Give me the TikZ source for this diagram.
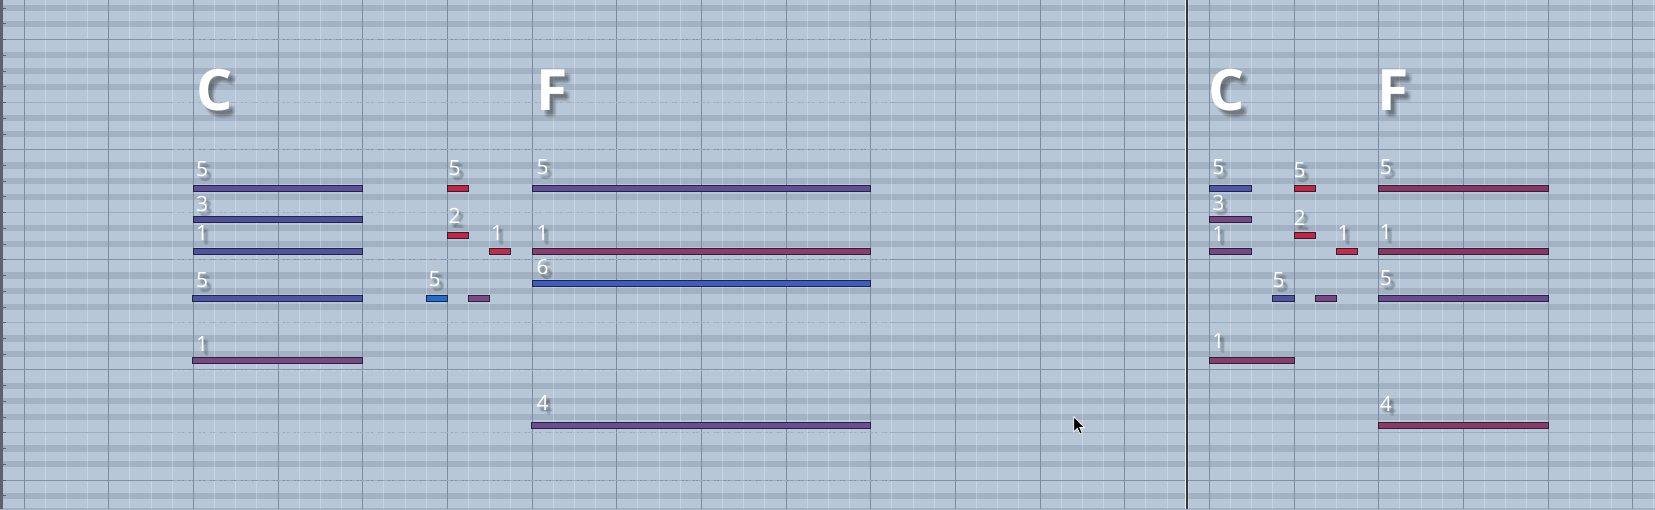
\documentclass[tikz,border=0pt]{standalone}
\usepackage{fontspec}
\setmainfont{Open Sans}
\definecolor{bgc}{HTML}{B8C7D7}
\definecolor{bandc}{HTML}{A2B2C3}
\definecolor{beatc}{HTML}{7A8CA2}
\definecolor{octc}{HTML}{8292A6}
\definecolor{efc}{HTML}{9DADBF}
\definecolor{edgec}{HTML}{5D636E}
\definecolor{nborder}{HTML}{26233C}
\definecolor{cA}{HTML}{5F509B}
\definecolor{cB}{HTML}{4D4F9D}
\definecolor{cC}{HTML}{4F53A0}
\definecolor{cD}{HTML}{4B57A6}
\definecolor{cE}{HTML}{7A4785}
\definecolor{cRed}{HTML}{C8243F}
\definecolor{cRedB}{HTML}{C52A46}
\definecolor{cBlue}{HTML}{1F6FD2}
\definecolor{cPur}{HTML}{7B4B86}
\definecolor{cF5}{HTML}{604F99}
\definecolor{cF1}{HTML}{8C3C6D}
\definecolor{cF6}{HTML}{3C5DC1}
\definecolor{cF4}{HTML}{6C4C92}
\definecolor{cR5}{HTML}{4E57A9}
\definecolor{cRlow}{HTML}{8A3D6C}
\definecolor{cRblue}{HTML}{4F55A3}
\definecolor{cRF}{HTML}{8D3562}
\definecolor{cRFg}{HTML}{6C4A8F}
\definecolor{cRF4}{HTML}{8D3866}
\tikzset{
  notebox/.style={draw=nborder, line width=0.8pt, inner sep=0pt, outer sep=0pt, minimum height=6.2pt, anchor=west},
  lbltext/.style={text=white, inner sep=0pt, font=\fontsize{21}{21}\selectfont},
  lblshadow/.style={text=black, opacity=0.06, inner sep=0pt, font=\fontsize{21}{21}\selectfont},
  chordtext/.style={text=white, inner sep=0pt, font=\fontsize{57}{57}\selectfont\bfseries},
  chordshadow/.style={text=black, opacity=0.06, inner sep=0pt, font=\fontsize{57}{57}\selectfont\bfseries},
  subline/.style={white, opacity=0.26, line width=0.9pt},
  beatline/.style={beatc, line width=1pt},
  octline/.style={octc, line width=1pt},
  efline/.style={efc, line width=0.8pt},
  overlay dash/.style={white, opacity=0.22, line width=0.8pt, dash pattern=on 5pt off 2pt on 1.5pt off 2pt}
}
% name, x-start, x-end, y-centre, colour
\newcommand\nt[5]{\node[notebox, fill=#5, minimum width={#3-#2}] (#1) at (#2,#4) {};}
% name, x, baseline, text
\newcommand\lbl[4]{%
  \foreach \dx/\dy [count=\c] in {2/2,3/3,4/4,3/5,5/3,4/5,5/5,2/4}{%
    \node[lblshadow, anchor=base west] (#1s\c) at ({#2+\dx},{#3+\dy}) {#4};}
  \node[lbltext, anchor=base west] (#1) at (#2,#3) {#4};}
\newcommand\chd[4]{%
  \foreach \dx/\dy [count=\c] in {3/3,4/4,5/5,6/6,4/7,7/4,6/8,3/6}{%
    \node[chordshadow, anchor=base west] (#1s\c) at ({#2+\dx},{#3+\dy}) {#4};}
  \node[chordtext, anchor=base west] (#1) at (#2,#3) {#4};}
\begin{document}
\begin{tikzpicture}[x=1pt,y=-1pt]
\useasboundingbox (0,0) rectangle (1655,509);
\clip (0,0) rectangle (1655,509);
\fill[bgc] (0,0) rectangle (1655,509);
% black-key bands
\foreach \n in {0,...,5}{
  \pgfmathsetmacro\yo{39.6+110.1*\n}
  \foreach \m in {1,2,4,5,6}{
    \fill[bandc] (0,{\yo-\m*15.729-3.1}) rectangle (1655,{\yo-\m*15.729+3.1});
  }
}
% sixteenth lines
\foreach \i in {0,...,78}{ \draw[subline] ({2.833+21.1667*\i},0) -- ++(0,509); }
% octave and E/F lines
\foreach \n in {0,...,4}{ \draw[octline] (0,{39.6+110.1*\n}) -- (1655,{39.6+110.1*\n}); }
\foreach \n in {1,...,4}{ \draw[efline] (0,{39.6+110.1*\n-47.19}) -- (1655,{39.6+110.1*\n-47.19}); }
% beat lines
\foreach \k in {0,...,19}{ \draw[beatline] ({24+84.667*\k},0) -- ++(0,509); }
% faint dashed overlay
\foreach \y in {39.6,149.7,259.8,369.9,480.0,102.5,212.6,322.7,432.8}{
  \draw[overlay dash] (173,\y) -- (890,\y); }
% playhead
\draw[white!85!gray, line width=3.5pt] (1186.7,0) -- (1186.7,509);
\draw[black!78, line width=2pt] (1186.7,0) -- (1186.7,509);
% left edge with key ticks
\fill[edgec] (0,0) rectangle (2.7,509);
\foreach \n in {0,...,5}{
  \foreach \m in {0,...,6}{
    \draw[edgec, line width=0.9pt] (2.5,{39.6+110.1*\n-15.729*\m}) -- ++(3,0);
  }
}
% ---- notes, first part ----
\nt{lcg}{193.3}{362.7}{188.7}{cA}
\nt{lce}{193.3}{362.7}{219.3}{cB}
\nt{lcc}{193.3}{362.7}{251.0}{cC}
\nt{lcgl}{192.3}{362.7}{298.2}{cD}
\nt{lccl}{192.3}{362.7}{360.7}{cE}
\nt{lb5}{426.3}{447.3}{298.2}{cBlue}
\nt{lr5}{447.3}{468.5}{188.7}{cRed}
\nt{lr2}{447.3}{468.5}{235.3}{cRed}
\nt{lpg}{468.5}{489.7}{298.2}{cPur}
\nt{lr1}{489.7}{510.8}{251.0}{cRedB}
\nt{lfg}{532.3}{870.3}{188.7}{cF5}
\nt{lfc}{532.3}{870.3}{251.0}{cF1}
\nt{lfa}{532.3}{870.3}{283.0}{cF6}
\nt{lff}{531.5}{870.3}{425.0}{cF4}
% ---- notes, second part ----
\nt{rcg}{1209.3}{1251.7}{188.7}{cR5}
\nt{rce}{1209.3}{1251.7}{219.3}{cE}
\nt{rcc}{1209.3}{1251.7}{251.0}{cE}
\nt{rccl}{1209.3}{1294.0}{360.7}{cRlow}
\nt{rb5}{1272.8}{1294.0}{298.2}{cRblue}
\nt{rr5}{1294.0}{1315.2}{188.7}{cRed}
\nt{rr2}{1294.0}{1315.2}{235.3}{cRed}
\nt{rpg}{1315.2}{1336.3}{298.2}{cE}
\nt{rr1}{1336.3}{1357.5}{251.0}{cRedB}
\nt{rfg}{1378.7}{1548.0}{188.7}{cRF}
\nt{rfc}{1378.7}{1548.0}{251.0}{cRF}
\nt{rfgl}{1378.7}{1548.0}{298.2}{cRFg}
\nt{rff}{1378.7}{1548.0}{425.0}{cRF4}
% ---- chord names ----
\chd{chC1}{196}{110.5}{C}
\chd{chF1}{536}{110.8}{F}
\chd{chC2}{1208.6}{110.8}{C}
\chd{chF2}{1377.7}{110.3}{F}
% ---- finger numbers ----
\lbl{f1}{195.8}{176.0}{5}
\lbl{f2}{195.8}{211.0}{3}
\lbl{f3}{195.8}{240.7}{1}
\lbl{f4}{195.8}{287.7}{5}
\lbl{f5}{195.8}{351.7}{1}
\lbl{f6}{428.5}{286.7}{5}
\lbl{f7}{448.5}{175.0}{5}
\lbl{f8}{448.5}{223.3}{2}
\lbl{f9}{490.8}{240.7}{1}
\lbl{f10}{536.3}{174.3}{5}
\lbl{f11}{536.3}{240.0}{1}
\lbl{f12}{536.3}{274.3}{6}
\lbl{f13}{536.3}{410.7}{4}
\lbl{g1}{1212.2}{174.0}{5}
\lbl{g2}{1212.2}{210.0}{3}
\lbl{g3}{1212.2}{241.5}{1}
\lbl{g4}{1212.2}{348.3}{1}
\lbl{g5}{1272.3}{287.3}{5}
\lbl{g6}{1293.5}{177.5}{5}
\lbl{g7}{1293.5}{225.5}{2}
\lbl{g8}{1337.5}{240.7}{1}
\lbl{g9}{1379.6}{174.0}{5}
\lbl{g10}{1379.6}{239.3}{1}
\lbl{g11}{1379.6}{285.0}{5}
\lbl{g12}{1379.6}{411.7}{4}
% ---- mouse pointer ----
\coordinate (tip) at (1073.8,416.7);
\fill[black, draw=white, line width=0.7pt] (tip) -- ++(0,15) -- ++(3.5,-3.5) -- ++(2.6,5.8) -- ++(2.3,-1) -- ++(-2.5,-5.6) -- ++(4.6,0) -- cycle;
\end{tikzpicture}
\end{document}
